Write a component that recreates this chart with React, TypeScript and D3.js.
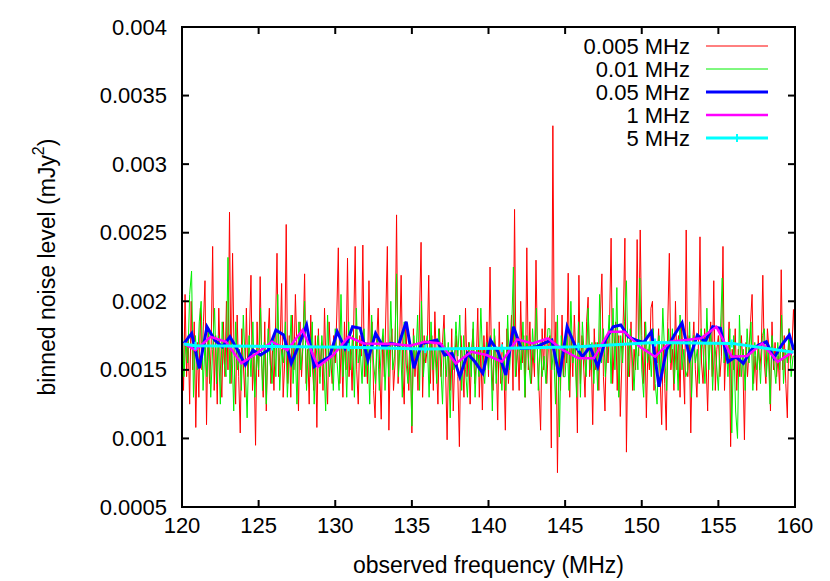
import React from "react";
import * as d3 from "d3";

// binned noise levels, in units of 1e-6 mJy^2

// 0.005 MHz bins (drawn every 0.1 MHz from 120 MHz)
const noise0005 = [
  1900, 1350, 2050, 1450, 1750, 1250, 2000, 1500, 1850, 1080,
  1700, 1300, 1950, 1500, 1850, 2150, 1100, 1800, 1400, 1650,
  2400, 1350, 1750, 1250, 1950, 1550, 1300, 1850, 1450, 2000,
  1500, 2650, 1400, 2350, 1600, 1250, 1900, 1450, 1040, 1800,
  1550, 1300, 1950, 1450, 1750, 2190, 1350, 1600, 950, 1850,
  1450, 2180, 1550, 1300, 1850, 1200, 1700, 1950, 1400, 1650,
  1350, 1800, 2350, 1450, 1650, 2130, 1300, 1550, 2560, 1400,
  1750, 1300, 1900, 1500, 2050, 1650, 1200, 1850, 1450, 1700,
  2200, 1400, 1650, 1250, 1900, 1550, 1350, 1750, 1080, 1800,
  1450, 1700, 1350, 1950, 1500, 1250, 1850, 1600, 1400, 1750,
  1550, 1900, 2390, 1400, 1700, 1300, 1850, 1500, 2315, 1450,
  1650, 1350, 1800, 2400, 1500, 1250, 1750, 1600, 2410, 1450,
  1700, 1400, 2150, 1550, 1850, 1350, 1150, 1700, 1950, 1500,
  1140, 1750, 1450, 1900, 2400, 1060, 1650, 1800, 1350, 1550,
  2630, 1400, 1700, 2190, 1500, 1250, 1850, 1550, 1350, 1700,
  1040, 1800, 1450, 1650, 1350, 1900, 2430, 1300, 1750, 1550,
  1650, 2190, 1400, 1750, 1350, 1924, 1550, 1250, 1800, 1450,
  1700, 1900, 1500, 990, 1650, 1350, 1800, 1200, 1600, 1750,
  1450, 940, 1750, 1550, 1300, 1950, 1450, 1700, 1250, 1650,
  1800, 1400, 1550, 1950, 1300, 1650, 1207, 1750, 1500, 1850,
  1450, 2250, 1550, 1350, 1750, 1600, 1134, 1850, 1400, 1700,
  1550, 1060, 1800, 1400, 1650, 1900, 1350, 2670, 1450, 1700,
  1350, 2000, 1550, 1750, 1300, 2390, 1500, 1850, 1400, 1650,
  1450, 2300, 1600, 1350, 1060, 1800, 1500, 1950, 1400, 1650,
  1750, 930, 3280, 1500, 1850, 750, 1650, 1350, 1900, 1450,
  1700, 1550, 2205, 1300, 1750, 1450, 1900, 1600, 1040, 2190,
  1400, 1750, 1550, 1300, 1850, 2030, 1450, 1650, 1100, 1800,
  1500, 1700, 1350, 1900, 2200, 1450, 1200, 1750, 1550, 1850,
  2460, 1400, 1650, 1850, 1350, 1750, 1160, 1550, 1900, 2460,
  900, 1700, 1450, 1850, 1350, 1650, 1500, 2450, 1600, 2520,
  1750, 1400, 1850, 1150, 1650, 1500, 1950, 2000, 1350, 1700,
  1550, 1800, 1450, 1100, 1700, 1400, 1060, 1850, 2350, 1500,
  1650, 1350, 2000, 1500, 1750, 1300, 1850, 1550, 1250, 2520,
  1450, 1750, 1040, 1650, 1850, 1500, 1300, 1700, 2470, 1550,
  1400, 1800, 1550, 1200, 1700, 1850, 1450, 2150, 1350, 1650,
  1750, 1450, 1600, 2400, 1350, 1700, 1550, 1850, 940, 1650,
  1500, 1800, 1350, 1650, 1450, 1750, 1550, 990, 1700, 1450,
  1650, 1850, 2050, 1400, 1600, 1350, 1750, 1500, 1650, 2190,
  1550, 1400, 1800, 1650, 1200, 1850, 1500, 1700, 1450, 1600,
  1350, 2230, 1500, 1750, 1400, 1150, 1800, 1550, 1650, 1940,
  1700,
];

// 0.01 MHz bins (drawn every 0.125 MHz from 120 MHz)
const noise001 = [
  1900, 1450, 1700, 1550, 2050, 2220, 1300, 1750,
  1500, 1850, 2000, 1350, 1700, 1450, 1800, 1300,
  1650, 1950, 1400, 1750, 1250, 1850, 1550, 1450,
  2320, 1400, 1700, 1200, 1850, 1500, 1650, 1350,
  1900, 1550, 1150, 1750, 1450, 1850, 1300, 1650,
  1500, 1950, 1350, 1700, 1250, 1800, 1550, 1400,
  1750, 1450, 2050, 1350, 1650, 1550, 1850, 1300,
  1600, 1900, 1400, 1700, 1250, 1850, 1500, 1650,
  2000, 1350, 1700, 1450, 1850, 1250, 1600, 1750,
  1400, 1750, 1550, 1200, 1900, 1450, 1650, 1350,
  1800, 1550, 1350, 2050, 1450, 1700, 1300, 1850,
  1500, 1750, 1300, 1950, 1550, 1650, 1400, 1800,
  1450, 1700, 1250, 1900, 1550, 1400, 1750, 1350,
  1650, 1800, 1350, 1700, 1450, 2000, 1500, 1600,
  2200, 1450, 1750, 1300, 1850, 1550, 1400, 1700,
  1090, 1750, 1550, 1900, 1350, 2000, 1450, 1650,
  1750, 1300, 1850, 1500, 1650, 1400, 1800, 1550,
  1250, 1800, 1450, 1700, 1150, 1650, 1500, 1850,
  1600, 1900, 1350, 1750, 1500, 1300, 1700, 1450,
  1850, 1300, 1650, 1450, 1950, 1550, 1400, 1700,
  1500, 1750, 1200, 1800, 1400, 1650, 1550, 1350,
  1650, 1350, 1900, 1500, 1750, 2250, 1450, 1600,
  1700, 1500, 1850, 1300, 1750, 1550, 1400, 1800,
  1550, 1950, 1350, 1700, 1450, 1600, 1400, 1800,
  1800, 1500, 1650, 1250, 1900, 1010, 1750, 1450,
  1450, 1750, 1350, 2000, 1550, 1700, 1300, 1850,
  1300, 1850, 1600, 1450, 1950, 1500, 1700, 1400,
  1700, 1350, 2050, 1550, 1800, 1450, 1650, 1900,
  1400, 1950, 1500, 2100, 1300, 1750, 1550, 1850,
  2150, 1450, 1800, 1600, 1350, 1700, 1500, 2170,
  1500, 1300, 1850, 1550, 1700, 1450, 1800, 1400,
  1250, 1750, 1450, 1950, 1600, 1350, 1800, 1550,
  1800, 1400, 1700, 1350, 1900, 1500, 1650, 1450,
  1500, 1850, 1300, 1750, 1550, 1650, 1400, 1800,
  1650, 1400, 1950, 1500, 1800, 1350, 1700, 1550,
  1350, 1750, 2170, 1550, 1700, 1450, 1800, 1040,
  1750, 1200, 1000, 1900, 1450, 1650, 1350, 1800,
  1550, 1850, 1350, 1700, 1500, 1650, 1400, 1750,
  1800, 1450, 1650, 1250, 1750, 1550, 1400, 1700,
  1500, 1900, 1400, 1650, 1550, 1800, 1450, 1600,
  1600,
];

// 0.05 MHz bins (0.5 MHz vertices from 120.13 MHz, last at 159.93)
const noise005 = [
  1693, 1766, 1511, 1814, 1717, 1668, 1741, 1644, 1535, 1644,
  1608, 1644, 1790, 1754, 1547, 1681, 1827, 1523, 1565, 1596,
  1778, 1657, 1814, 1803, 1571, 1766, 1668, 1693, 1681, 1851,
  1511, 1693, 1703, 1717, 1608, 1620, 1450, 1620, 1557, 1475,
  1717, 1630, 1462, 1814, 1657, 1660, 1668, 1695, 1717, 1450,
  1814, 1681, 1596, 1668, 1523, 1717, 1814, 1827, 1741, 1717,
  1700, 1778, 1377, 1650, 1754, 1843, 1584, 1754, 1705, 1814,
  1803, 1559, 1596, 1547, 1644, 1681, 1705, 1586, 1681, 1754,
  1644,
];

// 1 MHz bins
const noise1 = [
  1693, 1644, 1741, 1705, 1547, 1620, 1705, 1644, 1790, 1523,
  1608, 1741, 1693, 1690, 1688, 1676, 1705, 1693, 1547, 1632,
  1608, 1559, 1722, 1693, 1730, 1644, 1584, 1584, 1778, 1778,
  1668, 1596, 1705, 1717, 1730, 1814, 1596, 1601, 1693, 1559,
  1632,
];

// 5 MHz bins
const noise5 = [1688, 1676, 1670, 1664, 1652, 1657, 1668, 1699, 1693, 1628];

const freq0005 = noise0005.map((_, i) => 120 + i * 0.1);
const freq001 = noise001.map((_, i) => 120 + i * 0.125);
const freq005 = [...d3.range(80).map((i) => 120.13 + i * 0.5), 159.93];
const freq1 = [120.13, ...d3.range(39).map((i) => 120.87 + i), 159.87];
const freq5 = [120.13, 120.87, 125.87, 130.87, 135.87, 140.87, 145.87, 150.87, 155.87, 159.9];

const xTicks = [120, 125, 130, 135, 140, 145, 150, 155, 160];
const yTicks = [0.0005, 0.001, 0.0015, 0.002, 0.0025, 0.003, 0.0035, 0.004];

const W = 830;
const H = 581;
const margin = { top: 27, right: 35, bottom: 74, left: 182 };
const font = "'Liberation Sans', Arial, Helvetica, sans-serif";
const tickLen = 7;

export default function App() {
  const x = d3.scaleLinear().domain([120, 160]).range([margin.left, W - margin.right]);
  const y = d3.scaleLinear().domain([0.0005, 0.004]).range([H - margin.bottom, margin.top]);
  const line = d3
    .line<[number, number]>()
    .x((d) => x(d[0]))
    .y((d) => y(d[1] * 1e-6));

  const series = [
    { label: "0.005 MHz", color: "#ff0000", width: 1, f: freq0005, v: noise0005, marks: false },
    { label: "0.01 MHz", color: "#00f000", width: 1, f: freq001, v: noise001, marks: false },
    { label: "0.05 MHz", color: "#0000ff", width: 3, f: freq005, v: noise005, marks: false },
    { label: "1 MHz", color: "#ff00ff", width: 2.5, f: freq1, v: noise1, marks: false },
    { label: "5 MHz", color: "#00ffff", width: 3, f: freq5, v: noise5, marks: true },
  ];

  const [x0, x1] = x.range();
  const [y0, y1] = y.range();

  return (
    <svg
      width={W}
      height={H}
      style={{ position: "absolute", left: 0, top: 0, background: "#fff" }}
      fontFamily={font}
      fontSize={22}
    >
      <defs>
        <clipPath id="plot">
          <rect x={x0} y={y1} width={x1 - x0} height={y0 - y1} />
        </clipPath>
      </defs>

      <g clipPath="url(#plot)">
        {series.map((s) => {
          const pts = s.f.map((f, i) => [f, s.v[i]] as [number, number]);
          return (
            <g key={s.label}>
              <path d={line(pts) || ""} fill="none" stroke={s.color} strokeWidth={s.width} />
              {s.marks &&
                pts.slice(1, -1).map((p, i) => (
                  <path
                    key={i}
                    d={`M${x(p[0]) - 4},${y(p[1] * 1e-6)}h8M${x(p[0])},${y(p[1] * 1e-6) - 4}v8`}
                    stroke={s.color}
                    strokeWidth={2}
                  />
                ))}
            </g>
          );
        })}
      </g>

      {/* border and mirrored inward ticks */}
      <rect x={x0} y={y1} width={x1 - x0} height={y0 - y1} fill="none" stroke="#000" strokeWidth={2} />
      {xTicks.map((t) => (
        <g key={"x" + t}>
          <line x1={x(t)} x2={x(t)} y1={y0} y2={y0 - tickLen} stroke="#000" strokeWidth={2} />
          <line x1={x(t)} x2={x(t)} y1={y1} y2={y1 + tickLen} stroke="#000" strokeWidth={2} />
          <text x={x(t)} y={y0 + 26} textAnchor="middle">
            {t}
          </text>
        </g>
      ))}
      {yTicks.map((t) => (
        <g key={"y" + t}>
          <line x1={x0} x2={x0 + tickLen} y1={y(t)} y2={y(t)} stroke="#000" strokeWidth={2} />
          <line x1={x1} x2={x1 - tickLen} y1={y(t)} y2={y(t)} stroke="#000" strokeWidth={2} />
          <text x={x0 - 15} y={y(t)} textAnchor="end" dominantBaseline="central">
            {String(t)}
          </text>
        </g>
      ))}

      <text x={(x0 + x1) / 2} y={H - 8} textAnchor="middle" fontSize={23}>
        observed frequency (MHz)
      </text>
      <text
        transform={`translate(47,${(y0 + y1) / 2}) rotate(-90)`}
        textAnchor="middle"
        dominantBaseline="central"
        fontSize={23}
      >
        binned noise level (mJy
        <tspan fontSize={16} dy={-9}>
          2
        </tspan>
        <tspan dy={9}>)</tspan>
      </text>

      {/* legend */}
      {series.map((s, i) => {
        const ly = 46 + i * 23;
        return (
          <g key={"lg" + s.label}>
            <text x={690} y={ly} textAnchor="end" dominantBaseline="central">
              {s.label}
            </text>
            <line x1={706} x2={768} y1={ly} y2={ly} stroke={s.color} strokeWidth={s.width} />
            {s.marks && <line x1={737} x2={737} y1={ly - 4} y2={ly + 4} stroke={s.color} strokeWidth={2} />}
          </g>
        );
      })}
    </svg>
  );
}
